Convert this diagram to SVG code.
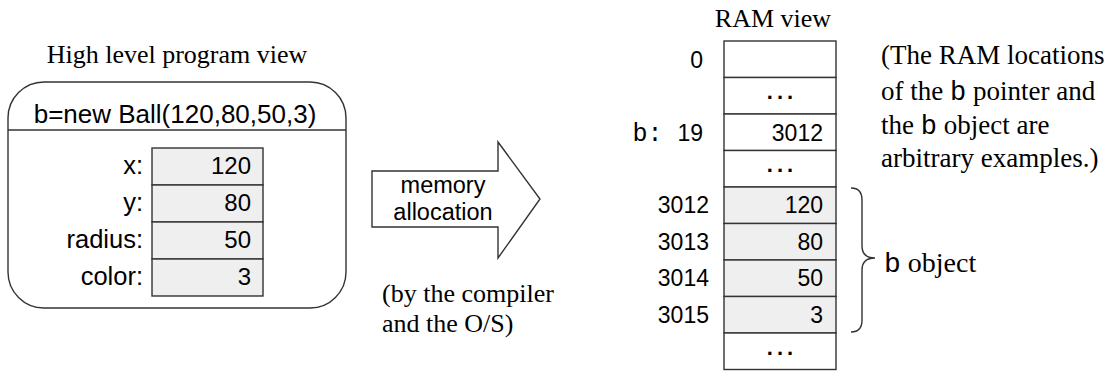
<svg xmlns="http://www.w3.org/2000/svg" width="1112" height="371" viewBox="0 0 1112 371">
<style>
.ln{fill:none;stroke:#333;stroke-width:1.4}
.cell{fill:#fff;stroke:#333;stroke-width:1.4}
.g{fill:#efefef;stroke:#333;stroke-width:1.4}
.a{font-family:"Liberation Sans",Arial,sans-serif;fill:#000}
.t{font-family:"Liberation Serif","Times New Roman",serif;fill:#000}
.m{font-family:"Liberation Mono","Courier New",monospace}
.e{text-anchor:end}
.c{text-anchor:middle}
</style>
<rect width="1112" height="371" fill="#fff"/>
<g id="program-view">
  <text class="t c" x="177" y="63" font-size="26">High level program view</text>
  <rect class="ln" x="8" y="82" width="338" height="226" rx="36" ry="36"/>
  <line class="ln" x1="8" y1="130" x2="346" y2="130"/>
  <text class="a c" x="175" y="123" font-size="26">b=new Ball(120,80,50,3)</text>
  <rect class="g" x="152" y="148" width="111" height="37"/>
  <rect class="g" x="152" y="185" width="111" height="37"/>
  <rect class="g" x="152" y="222" width="111" height="37"/>
  <rect class="g" x="152" y="259" width="111" height="37"/>
  <g class="a e" font-size="25.5">
    <text x="143" y="174">x:</text>
    <text x="143" y="211">y:</text>
    <text x="143" y="248">radius:</text>
    <text x="143" y="285">color:</text>
  </g>
  <g class="a e" font-size="24">
    <text x="251" y="174">120</text>
    <text x="251" y="211">80</text>
    <text x="251" y="248">50</text>
    <text x="251" y="285">3</text>
  </g>
</g>
<g id="allocation-arrow">
  <polygon class="ln" points="372,171 498,171 498,142 540,199 498,258 498,227 372,227"/>
  <text class="a c" x="443" y="193" font-size="23.5">memory</text>
  <text class="a c" x="443" y="220" font-size="23.5">allocation</text>
  <text class="t" x="382" y="302" font-size="26">(by the compiler</text>
  <text class="t" x="382" y="332" font-size="26">and the O/S)</text>
</g>
<g id="ram-view">
  <text class="t c" x="773" y="27" font-size="26">RAM view</text>
  <rect class="cell" x="724" y="41" width="112" height="36.5"/>
  <rect class="cell" x="724" y="77.5" width="112" height="36.5"/>
  <rect class="cell" x="724" y="114" width="112" height="36.5"/>
  <rect class="cell" x="724" y="150.5" width="112" height="36.5"/>
  <rect class="g" x="724" y="187" width="112" height="36.5"/>
  <rect class="g" x="724" y="223.5" width="112" height="36.5"/>
  <rect class="g" x="724" y="260" width="112" height="36.5"/>
  <rect class="g" x="724" y="296.5" width="112" height="36.5"/>
  <rect class="cell" x="724" y="333" width="112" height="36.5"/>
  <g class="a e" font-size="23">
    <text x="703" y="68">0</text>
    <text x="703" y="141"><tspan class="m" font-size="25">b: </tspan>19</text>
    <text x="709" y="213">3012</text>
    <text x="709" y="250">3013</text>
    <text x="709" y="286">3014</text>
    <text x="709" y="323">3015</text>
    <text x="823" y="141">3012</text>
    <text x="823" y="213">120</text>
    <text x="823" y="250">80</text>
    <text x="823" y="286">50</text>
    <text x="823" y="323">3</text>
  </g>
  <g class="a c" font-size="22" font-weight="bold" letter-spacing="4">
    <text x="782" y="99">...</text>
    <text x="782" y="172">...</text>
    <text x="782" y="355">...</text>
  </g>
  <path class="ln" d="M851,188 Q862,188 862,200 L862,246 Q862,258 875,258 Q862,258 862,270 L862,320 Q862,332 851,332"/>
  <text class="t" x="884" y="272" font-size="28"><tspan class="m">b</tspan> object</text>
</g>
<g id="note">
  <g class="t" font-size="27">
    <text x="881" y="64">(The RAM locations</text>
    <text x="881" y="100">of the <tspan class="m">b</tspan> pointer and</text>
    <text x="881" y="134">the <tspan class="m">b</tspan> object are</text>
    <text x="881" y="167">arbitrary examples.)</text>
  </g>
</g>
</svg>
